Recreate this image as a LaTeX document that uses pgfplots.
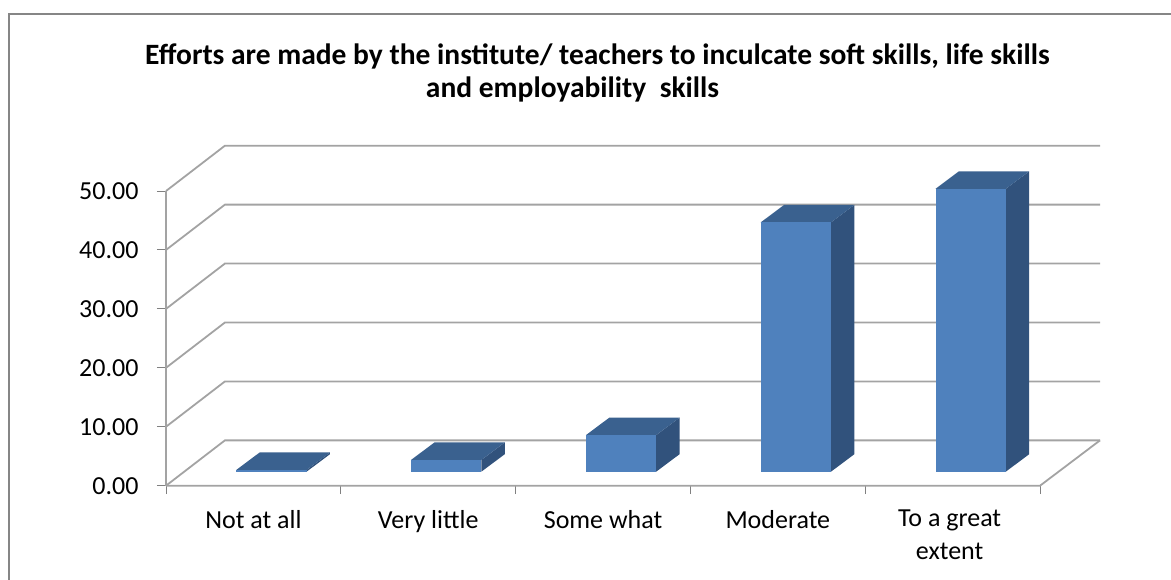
\documentclass[border=0pt]{standalone}
\usepackage{pgfplots}
\pgfplotsset{compat=1.18}
\usepackage{fontspec}
\setmainfont{Carlito}
\definecolor{frontc}{HTML}{4F81BD}
\definecolor{sidec}{HTML}{31527C}
\definecolor{topc}{HTML}{3A618F}
\definecolor{gridc}{HTML}{A3A3A3}
\definecolor{framec}{HTML}{868686}
\definecolor{tickc}{HTML}{808080}
\begin{document}
\begin{tikzpicture}[x=1pt,y=1pt]
\useasboundingbox (0,0) rectangle (1171,580);
\draw[framec,line width=1.5pt] (9,0) -- (9,566) -- (1171,566);
\node[align=center,font=\fontsize{29.5}{33}\selectfont\bfseries,anchor=center] at (597.5,507) {Efforts are made by the institute/ teachers to inculcate soft skills, life skills\\and employability\ \ skills\hspace*{50pt}};
\begin{axis}[
  at={(166pt,94.3pt)}, anchor=south west,
  scale only axis, width=934pt, height=340pt,
  xmin=0, xmax=5.343, ymin=0, ymax=57.69, clip=false,
  axis x line*=bottom, axis y line*=left,
  axis line style={draw=none},
  tick align=outside, tick style={tickc,line width=1pt},
  major tick length=9pt, minor tick length=8.5pt,
  ytick={0,10,20,30,40,50},
  yticklabels={0.00,10.00,20.00,30.00,40.00,50.00},
  yticklabel style={font=\fontsize{26}{30}\selectfont,text=black,xshift=-15pt},
  xtick={0.5,1.5,2.5,3.5,4.5},
  x tick style={draw=none},
  minor xtick={0,1,2,3,4,5},
  minor x tick style={tickc,line width=1pt,draw=tickc},
  xticklabels={Not at all,Very little,Some what,Moderate,{To a great\hspace*{6pt}\\extent\hspace*{6pt}}},
  xticklabel style={font=\fontsize{26}{32.7}\selectfont,text=black,align=center,anchor=north,yshift=-12pt},
  /pgf/number format/assume math mode=true,
]
% wall and floor
\addplot[gridc,line width=1.8pt] coordinates {(0,0) (0,50)};
\addplot[gridc,line width=1.8pt] coordinates {(0,0) (5,0) (5.343,7.69)};
\addplot[gridc,line width=1.8pt] coordinates {(0,0) (0.337,7.69) (5.343,7.69)};
\addplot[gridc,line width=1.8pt] coordinates {(0,10) (0.337,17.69) (5.343,17.69)};
\addplot[gridc,line width=1.8pt] coordinates {(0,20) (0.337,27.69) (5.343,27.69)};
\addplot[gridc,line width=1.8pt] coordinates {(0,30) (0.337,37.69) (5.343,37.69)};
\addplot[gridc,line width=1.8pt] coordinates {(0,40) (0.337,47.69) (5.343,47.69)};
\addplot[gridc,line width=1.8pt] coordinates {(0,50) (0.337,57.69) (5.343,57.69)};
% Not at all, value 0.3
\addplot[fill=sidec,draw=none] coordinates {(0.804,2.375) (0.938,5.345) (0.938,5.645) (0.804,2.675)} -- cycle;
\addplot[fill=topc,draw=none] coordinates {(0.402,2.675) (0.536,5.645) (0.938,5.645) (0.804,2.675)} -- cycle;
\addplot[fill=frontc,draw=none] coordinates {(0.402,2.375) (0.804,2.375) (0.804,2.675) (0.402,2.675)} -- cycle;
% Very little, value 2.0
\addplot[fill=sidec,draw=none] coordinates {(1.804,2.375) (1.938,5.345) (1.938,7.345) (1.804,4.375)} -- cycle;
\addplot[fill=topc,draw=none] coordinates {(1.402,4.375) (1.536,7.345) (1.938,7.345) (1.804,4.375)} -- cycle;
\addplot[fill=frontc,draw=none] coordinates {(1.402,2.375) (1.804,2.375) (1.804,4.375) (1.402,4.375)} -- cycle;
% Some what, value 6.2
\addplot[fill=sidec,draw=none] coordinates {(2.804,2.375) (2.938,5.345) (2.938,11.545) (2.804,8.575)} -- cycle;
\addplot[fill=topc,draw=none] coordinates {(2.402,8.575) (2.536,11.545) (2.938,11.545) (2.804,8.575)} -- cycle;
\addplot[fill=frontc,draw=none] coordinates {(2.402,2.375) (2.804,2.375) (2.804,8.575) (2.402,8.575)} -- cycle;
% Moderate, value 42.3
\addplot[fill=sidec,draw=none] coordinates {(3.804,2.375) (3.938,5.345) (3.938,47.645) (3.804,44.675)} -- cycle;
\addplot[fill=topc,draw=none] coordinates {(3.402,44.675) (3.536,47.645) (3.938,47.645) (3.804,44.675)} -- cycle;
\addplot[fill=frontc,draw=none] coordinates {(3.402,2.375) (3.804,2.375) (3.804,44.675) (3.402,44.675)} -- cycle;
% To a great extent, value 48.0
\addplot[fill=sidec,draw=none] coordinates {(4.804,2.375) (4.938,5.345) (4.938,53.345) (4.804,50.375)} -- cycle;
\addplot[fill=topc,draw=none] coordinates {(4.402,50.375) (4.536,53.345) (4.938,53.345) (4.804,50.375)} -- cycle;
\addplot[fill=frontc,draw=none] coordinates {(4.402,2.375) (4.804,2.375) (4.804,50.375) (4.402,50.375)} -- cycle;
\end{axis}
\end{tikzpicture}
\end{document}
